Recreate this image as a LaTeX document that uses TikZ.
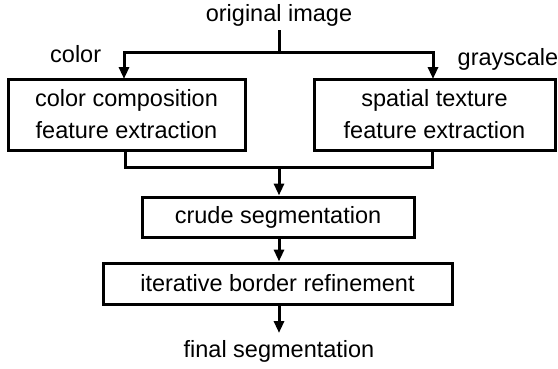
\documentclass[tikz,border=0pt]{standalone}
\usepackage{fontspec}
\setmainfont{Liberation Sans}
\usetikzlibrary{arrows.meta}
\begin{document}
\begin{tikzpicture}[x=1pt,y=-1pt,
  font=\fontsize{23.5}{32}\selectfont,
  lbl/.style={inner sep=0pt},
  box/.style={draw,line width=3pt,inner sep=0pt,align=center},
  wire/.style={line width=3pt,line join=miter},
  arr/.style={wire,-{Triangle[length=12pt,width=10pt]}}]
\useasboundingbox (0,0) rectangle (558,368);
\node[lbl,anchor=base] (orig) at (279,21) {original image};
\node[lbl,anchor=base west] (colorlbl) at (50,62) {color};
\node[lbl,anchor=base west] (graylbl) at (457.5,65) {grayscale};
\node[box,minimum width=237pt,minimum height=71pt] (cbox) at (126.5,114.5) {color composition\\feature extraction};
\node[box,minimum width=241pt,minimum height=71pt] (sbox) at (434.5,114.5) {spatial texture\\feature extraction};
\node[box,minimum width=272pt,minimum height=40pt] (crude) at (278,217) {crude segmentation};
\node[box,minimum width=349pt,minimum height=41pt] (iter) at (277.5,283.5) {iterative border refinement};
\node[lbl,anchor=base] (final) at (279,357) {final segmentation};
\coordinate (top) at (279,30);
\coordinate (split) at (279,52);
\coordinate (merge) at (279,167);
\coordinate (cin) at (124,79);
\coordinate (sin) at (433,79);
\coordinate (fin) at (279,333);
\draw[wire] (top) -- (split);
\draw[arr] (split) -| (cin);
\draw[arr] (split) -| (sin);
\draw[wire] ([xshift=-1.5pt]cbox.south) |- (merge) -| ([xshift=-2.5pt]sbox.south);
\draw[arr] (merge) -- (merge |- crude.north);
\draw[arr] (merge |- crude.south) -- (merge |- iter.north);
\draw[arr] (merge |- iter.south) -- (fin);
\end{tikzpicture}
\end{document}
